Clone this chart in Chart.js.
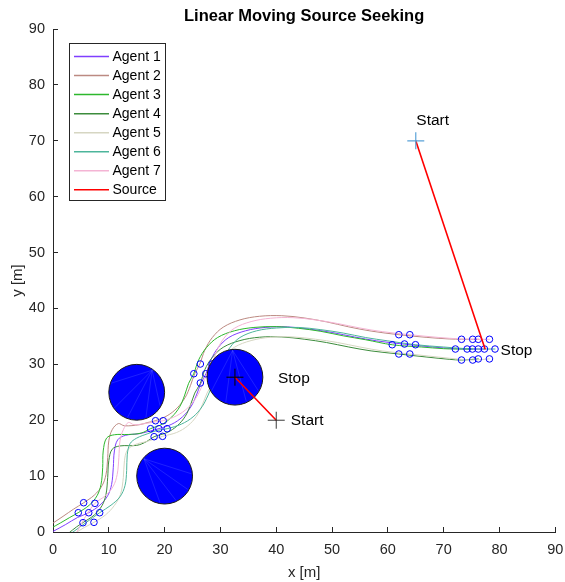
<!DOCTYPE html>
<html><head><meta charset="utf-8">
<script src="https://cdn.jsdelivr.net/npm/chart.js@4/dist/chart.umd.min.js"></script>
<style>html,body{margin:0;padding:0;background:#fff}canvas{display:block}</style>
</head><body>
<canvas id="c" width="565" height="582"></canvas>
<script>
// ---------- DATA ----------
const xTicks = [0,10,20,30,40,50,60,70,80,90];
const yTicks = [0,10,20,30,40,50,60,70,80,90];
const legendLabels = ['Agent 1','Agent 2','Agent 3','Agent 4','Agent 5','Agent 6','Agent 7','Source'];

const agent1 = [[0,0.1],[2.2,1.3],[4.4,2.6],[6.4,3.45],[8.4,4.8],[9.8,6.5],[10.5,8.5],[10.8,11.5],[11.0,14.5],[11.6,16.5],[13.0,17.3],[15.5,17.6],[17.5,18.1],[19.0,18.5],[21.3,19.3],[23.2,20.6],[24.7,22.4],[25.7,24.5],[26.5,26.6],[27.4,28.3],[28.3,30.8],[29.6,33.0],[31.5,34.8],[34.5,36.0],[38.0,36.6],[42.0,36.7],[46.0,36.3],[50.0,35.7],[54.0,34.9],[58.0,34.2],[63.0,33.6],[68.0,33.1],[72.0,32.8],[74.2,32.74],[77.3,32.74]];
const agent2 = [[0,1.6],[1.8,2.8],[3.7,4.1],[5.45,5.2],[7.4,6.6],[8.8,8.3],[9.5,10.3],[9.8,13.3],[10.0,16.3],[10.6,18.3],[11.7,19.4],[12.8,19.0],[15.5,19.2],[17.0,19.6],[18.3,19.9],[20.45,20.8],[22.25,22.2],[23.7,24.1],[24.65,26.25],[25.4,28.35],[26.3,30.05],[27.2,32.55],[28.55,34.8],[30.5,36.65],[33.5,37.95],[37.0,38.6],[41.0,38.7],[45.0,38.3],[49.0,37.6],[53.0,36.7],[57.0,35.95],[62.0,35.3],[67.0,34.82],[71.0,34.54],[73.2,34.48],[76.3,34.48]];
const agent3 = [[-0.5,0.6],[1.3,1.6],[3.0,2.6],[4.5,3.45],[6.5,4.8],[7.9,6.5],[8.6,8.5],[8.9,11.5],[9.0,14.5],[9.6,16.8],[11.0,17.4],[13.5,17.45],[15.8,17.7],[17.5,18.5],[19.6,19.3],[21.3,20.6],[22.7,22.4],[23.6,24.5],[24.3,26.6],[25.2,28.3],[26.1,30.8],[27.5,33.0],[29.5,34.8],[32.5,36.0],[36.0,36.6],[40.0,36.75],[44.0,36.45],[48.0,35.9],[52.0,35.1],[56.0,34.4],[60.8,33.5],[66.0,33.1],[70.0,32.8],[72.1,32.74],[75.15,32.74]];
const agent4 = [[2.8,-0.2],[4.2,0.9],[5.4,1.7],[7.4,3.05],[8.8,4.75],[9.5,6.75],[9.8,9.75],[10.0,12.75],[10.6,14.8],[12.0,15.4],[15.0,15.5],[16.8,16.2],[18.12,17.05],[20.45,17.8],[22.25,19.0],[23.7,20.7],[24.65,22.75],[25.4,24.85],[26.4,26.6],[27.2,29.05],[28.55,31.25],[30.5,33.05],[33.5,34.25],[37.0,34.85],[41.0,34.9],[45.0,34.5],[49.0,33.9],[53.0,33.1],[57.0,32.4],[61.96,31.85],[67.0,31.3],[71.0,30.9],[73.2,30.77],[76.2,30.97]];
const agent5 = [[3.8,-0.3],[5.6,0.8],[7.34,1.73],[9.4,3.05],[11.0,4.75],[12.1,6.75],[12.6,9.75],[12.8,12.75],[13.3,14.6],[14.6,15.6],[16.8,16.2],[18.4,16.7],[19.63,17.12],[22.15,17.8],[24.15,19.0],[25.7,20.7],[26.75,22.75],[27.6,24.85],[28.5,26.6],[29.4,29.05],[30.65,31.25],[32.5,33.05],[35.5,34.25],[39.0,34.85],[43.0,34.9],[47.0,34.5],[51.0,33.9],[55.0,33.1],[59.0,32.4],[63.93,31.85],[69.0,31.3],[73.0,30.9],[75.2,30.77],[78.2,30.97]];
const agent6 = [[3.3,-0.2],[5.8,1.6],[8.36,3.45],[10.4,4.8],[12.0,6.3],[12.9,8.3],[13.2,11.0],[13.3,13.8],[13.8,15.8],[15.0,16.8],[17.0,17.6],[18.8,18.2],[20.45,18.48],[23.0,19.3],[25.1,20.6],[26.7,22.4],[27.8,24.5],[28.7,26.6],[29.6,28.3],[30.5,30.8],[31.7,33.0],[33.5,34.8],[36.5,36.0],[40.0,36.5],[44.0,36.6],[48.0,36.2],[52.0,35.6],[56.0,34.8],[60.0,34.2],[64.95,33.51],[70.0,33.1],[74.0,32.8],[76.2,32.74],[79.2,32.74]];
const agent7 = [[4.2,-0.2],[5.6,2.4],[7.51,5.13],[9.4,6.5],[10.8,8.2],[11.5,10.3],[11.8,13.3],[12.0,16.3],[12.6,18.3],[13.5,19.6],[14.5,19.2],[16.5,19.4],[18.3,19.7],[19.74,19.91],[22.15,20.8],[24.15,22.2],[25.7,24.1],[26.75,26.25],[27.6,28.35],[28.5,30.05],[29.4,32.55],[30.65,34.7],[32.5,36.45],[35.5,37.65],[39.0,38.25],[43.0,38.35],[47.0,37.95],[51.0,37.3],[55.0,36.5],[59.0,35.85],[63.93,35.3],[69.0,34.82],[73.0,34.54],[75.2,34.48],[78.2,34.48]];

// formation snapshots (agent positions marked with circles)
const formation1 = [[5.49,5.24],[7.51,5.13],[4.53,3.45],[6.40,3.45],[8.36,3.45],[5.37,1.66],[7.34,1.73]];
const formation2 = [[18.37,19.91],[19.74,19.91],[17.48,18.48],[18.97,18.48],[20.45,18.48],[18.12,17.05],[19.63,17.12]];
const formation3 = [[26.4,30.06],[28.5,30.05],[25.23,28.32],[27.38,28.32],[29.6,28.3],[26.4,26.66],[28.5,26.6]];
const formation4 = [[61.96,35.30],[63.93,35.30],[60.78,33.51],[62.98,33.64],[64.95,33.51],[61.96,31.85],[63.93,31.85]];
const formation5 = [[73.2,34.48],[75.2,34.48],[72.1,32.74],[74.2,32.74],[76.2,32.74],[73.2,30.77],[75.2,30.77]];
const formation6 = [[76.2,34.48],[78.2,34.48],[75.15,32.74],[77.3,32.74],[79.2,32.74],[76.2,30.97],[78.2,30.97]];

// obstacles
const obstacleCenters = [[15,25],[20,10],[32.6,27.7]];
const obstacleRadii = [5,5,5];
// faint patch-triangulation edges inside each obstacle (angles in degrees)
const fanApex = [55,140,95];
const fanTargets = [[160,215,250,290,330],[5,-30,-65,-100],[-30,-65,-110,-150]];

// moving sources
const source1 = [[40,20],[32.6,27.7]];
const source2 = [[65,70],[77.4,32.8]];

// text annotations
const labelTexts = ['Start','Stop','Start','Stop'];
const labelX = [65.1,80.2,42.6,40.3];
const labelY = [73.6,32.4,19.9,27.4];

// ---------- STYLE ----------
const FONT = "'Liberation Sans', Arial, Helvetica, sans-serif";
const AX = '#262626';
const agentColors = ['#7F3FFF','#BC8A82','#2DB82D','#3C8C3C','#D6D6C2','#4DB59B','#F4B4D4'];
const sourceColor = '#FF0000';

const toXY = a => a.map(p => ({x:p[0], y:p[1]}));

const agents = [agent1,agent2,agent3,agent4,agent5,agent6,agent7];
const datasets = [];

datasets.push({label:'srcStart1', data:toXY([source1[0]]), showLine:false, pointStyle:'cross', pointRadius:8.5, borderWidth:1, borderColor:'#3a3a3a', order:0});
datasets.push({label:'srcStop1', data:toXY([source1[1]]), showLine:false, pointStyle:'cross', pointRadius:8.5, borderWidth:1, borderColor:'#000000', order:0});
datasets.push({label:'srcStart2', data:toXY([source2[0]]), showLine:false, pointStyle:'cross', pointRadius:8.5, borderWidth:1.2, borderColor:'#5AA2D8', order:0});
datasets.push({label:'Source', data:toXY(source1), showLine:true, pointRadius:0, borderColor:sourceColor, borderWidth:1.6, order:1});
datasets.push({label:'Source2', data:toXY(source2), showLine:true, pointRadius:0, borderColor:sourceColor, borderWidth:1.6, order:1});
const pxRadius = (chart, r) => {
  const s = chart.scales.x; if (!s) return 0;
  return Math.abs(s.getPixelForValue(r) - s.getPixelForValue(0));
};
const OBST_INDEX = datasets.length;
datasets.push({label:'obstacles', data:toXY(obstacleCenters), showLine:false, pointStyle:'circle',
  pointRadius: ctx => pxRadius(ctx.chart, obstacleRadii[ctx.dataIndex] || 5),
  backgroundColor:'#0000FF', borderColor:'#1a1a1a', borderWidth:1, order:2});
[formation1,formation2,formation3,formation4,formation5,formation6].forEach((f,i)=>{
  datasets.push({label:'formation'+(i+1), data:toXY(f), showLine:false, pointStyle:'circle', pointRadius:3.3,
    backgroundColor:'rgba(0,0,0,0)', borderColor:'#0000FF', borderWidth:1, order:3});
});
agents.forEach((a,i)=>{
  datasets.push({label:legendLabels[i], data:toXY(a), showLine:true, pointRadius:0, borderColor:agentColors[i],
    borderWidth:1, tension:0.35, order:10-i});
});

const decor = {
  id:'decor',
  afterDatasetDraw(chart, args){
    if (args.index !== OBST_INDEX) return;
    const ctx = chart.ctx, xs = chart.scales.x, ys = chart.scales.y;
    ctx.save();
    ctx.strokeStyle = 'rgba(140,160,255,0.35)'; ctx.lineWidth = 0.6;
    obstacleCenters.forEach((c,i)=>{
      const cx = xs.getPixelForValue(c[0]), cy = ys.getPixelForValue(c[1]);
      const r = pxRadius(chart, obstacleRadii[i]) - 1;
      const a0 = fanApex[i]*Math.PI/180;
      const ax = cx + r*Math.cos(a0), ay = cy - r*Math.sin(a0);
      ctx.beginPath();
      fanTargets[i].forEach(t=>{
        const a = t*Math.PI/180;
        ctx.moveTo(ax, ay); ctx.lineTo(cx + r*Math.cos(a), cy - r*Math.sin(a));
      });
      ctx.stroke();
    });
    ctx.restore();
  },
  afterDraw(chart){
    const ctx = chart.ctx, ca = chart.chartArea, xs = chart.scales.x, ys = chart.scales.y;
    ctx.save();
    ctx.fillStyle = '#000';
    ctx.font = "bold 16.5px " + FONT;
    ctx.textAlign = 'center'; ctx.textBaseline = 'middle';
    ctx.fillText('Linear Moving Source Seeking', (ca.left+ca.right)/2, 16);
    ctx.font = "15.5px " + FONT;
    ctx.textAlign = 'left';
    for (let i=0;i<labelTexts.length;i++){
      ctx.fillText(labelTexts[i], xs.getPixelForValue(labelX[i]), ys.getPixelForValue(labelY[i]));
    }
    const lx = 69.5, ly = 43.5, lw = 96, lh = 157;
    ctx.fillStyle = '#fff'; ctx.fillRect(lx, ly, lw, lh);
    ctx.strokeStyle = AX; ctx.lineWidth = 1; ctx.strokeRect(lx, ly, lw, lh);
    ctx.font = "14px " + FONT; ctx.textBaseline = 'middle'; ctx.textAlign='left';
    const colors = agentColors.concat([sourceColor]);
    for (let i=0;i<legendLabels.length;i++){
      const y = 56.5 + i*19.05;
      ctx.strokeStyle = colors[i]; ctx.lineWidth = 1.5;
      ctx.beginPath(); ctx.moveTo(74, y); ctx.lineTo(109, y); ctx.stroke();
      ctx.fillStyle = '#000';
      ctx.fillText(legendLabels[i], 112.5, y+0.5);
    }
    ctx.restore();
  }
};

const tickFont = {family:FONT, size:14.5};
new Chart(document.getElementById('c'), {
  type:'scatter',
  data:{datasets},
  options:{
    responsive:false, animation:false, devicePixelRatio:1,
    layout:{padding:{top:29,right:9,left:0,bottom:0}},
    plugins:{legend:{display:false}, tooltip:{enabled:false}, title:{display:false}},
    elements:{line:{borderCapStyle:'round', borderJoinStyle:'round'}},
    scales:{
      x:{type:'linear', min:0, max:90,
        afterBuildTicks: s => { s.ticks = xTicks.map(v=>({value:v})); },
        ticks:{color:AX, font:tickFont, padding:14, maxRotation:0, autoSkip:false},
        grid:{drawOnChartArea:false, drawTicks:true, tickLength:-5, color:AX},
        border:{display:true, color:AX, width:1},
        title:{display:true, text:'x [m]', color:AX, font:{family:FONT,size:15}, padding:{top:0,bottom:0}},
        afterFit: s => { s.height = 50; s.paddingLeft = 0; s.paddingRight = 0; }
      },
      y:{type:'linear', min:0, max:90,
        afterBuildTicks: s => { s.ticks = yTicks.map(v=>({value:v})); },
        ticks:{color:AX, font:tickFont, padding:13, autoSkip:false},
        grid:{drawOnChartArea:false, drawTicks:true, tickLength:-5, color:AX},
        border:{display:true, color:AX, width:1},
        title:{display:true, text:'y [m]', color:AX, font:{family:FONT,size:15}, padding:{top:9,bottom:0}},
        afterFit: s => { s.width = 53; s.paddingTop = 0; s.paddingBottom = 0; }
      }
    }
  },
  plugins:[decor]
});
</script>
</body></html>
